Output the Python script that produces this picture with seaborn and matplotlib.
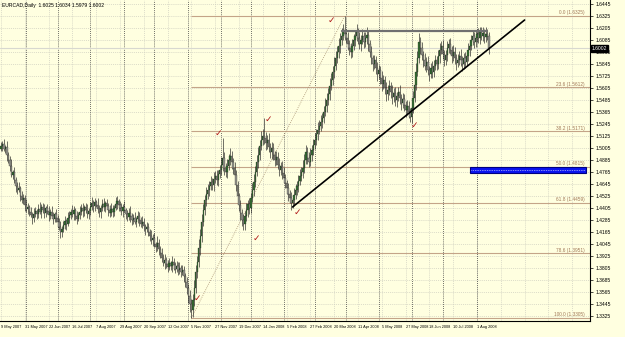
import numpy as np
import pandas as pd
import matplotlib
matplotlib.use("Agg")
import matplotlib.pyplot as plt
from matplotlib.patches import Rectangle
import seaborn as sns

# ---------------- data ----------------
title_text = "EURCAD,Daily  1.6025 1.6034 1.5979 1.6002"
start_date = "2007-05-09"
holidays = ["2007-12-25", "2008-01-01"]
open_first = 15000  # pips (x 1e-4)

close_pips = [
    15025, 15045, 14995, 15015, 14935, 14885, 14825, 14735, 14765, 14685,
    14625, 14585, 14605, 14525, 14485, 14505, 14435, 14395, 14415, 14365,
    14335, 14305, 14345, 14375, 14345, 14395, 14365, 14415, 14385, 14355,
    14405, 14375, 14335, 14365, 14325, 14295, 14345, 14305, 14265, 14215,
    14165, 14195, 14235, 14275, 14245, 14305, 14335, 14365, 14345, 14385,
    14325, 14295, 14335, 14365, 14405, 14375, 14415, 14385, 14345, 14375,
    14415, 14455, 14425, 14465, 14435, 14395, 14365, 14405, 14445, 14415,
    14455, 14425, 14385, 14355, 14395, 14365, 14405, 14445, 14475, 14435,
    14405, 14375, 14415, 14385, 14345, 14315, 14355, 14325, 14285, 14305,
    14265, 14295, 14325, 14285, 14245, 14265, 14225, 14195, 14215, 14165,
    14125, 14085, 14105, 14045, 14015, 14055, 13995, 13955, 13905, 13855,
    13885, 13845, 13815, 13855, 13825, 13865, 13835, 13795, 13825, 13785,
    13805, 13765, 13785, 13725, 13665, 13605, 13525, 13445, 13385, 13485,
    13605, 13765, 13865, 14005, 14125, 14265, 14385, 14485, 14545, 14585,
    14625, 14665, 14635, 14695, 14725, 14685, 14745, 14785, 14835, 14905,
    14805, 14765, 14825, 14885, 14925, 14865, 14805, 14735, 14635, 14525,
    14435, 14355, 14285, 14245, 14325, 14385, 14445, 14405, 14505, 14585,
    14665, 14765, 14865, 14935, 15025, 15085, 15125, 15105, 15055, 15085,
    15015, 14965, 15005, 14935, 14885, 14915, 14835, 14785, 14825, 14755,
    14705, 14655, 14605, 14545, 14505, 14455, 14485, 14535, 14585, 14625,
    14675, 14725, 14765, 14805, 14885, 14965, 14905, 14865, 14935, 14985,
    15035, 15085, 15145, 15185, 15225, 15265, 15305, 15365, 15425, 15485,
    15545, 15625, 15685, 15765, 15825, 15905, 15965, 16025, 16085, 16125,
    16185, 16145, 16105, 16045, 16005, 15965, 16025, 16085, 16125, 16165,
    16105, 16045, 16085, 16125, 16065, 16105, 16135, 16045, 15965, 15905,
    15845, 15885, 15805, 15745, 15785, 15705, 15645, 15685, 15605, 15545,
    15585, 15625, 15565, 15515, 15555, 15485, 15525, 15565, 15505, 15455,
    15495, 15435, 15385, 15425, 15365, 15315, 15405, 15505, 15635, 15765,
    15905, 16065, 16005, 15935, 15885, 15825, 15865, 15785, 15745, 15805,
    15765, 15825, 15885, 15845, 15925, 15985, 16025, 15945, 15885, 15935,
    16005, 16045, 15985, 15925, 15965, 15905, 15855, 15885, 15925, 15885,
    15845, 15905, 15865, 15925, 15985, 16025, 16085, 16125, 16065, 16105,
    16145, 16105, 16165, 16125, 16155, 16115, 16145, 16125, 16002,
]

# wick extensions beyond the body, in units of 2 pips
hi_ext = [
    20, 15, 25, 10, 30, 15, 20, 35, 10, 25, 15, 20, 30, 10, 25, 20, 15, 30, 20, 10,
    25, 15, 30, 20, 10, 25, 35, 15, 20, 30, 10, 20, 25, 15, 30, 20, 10, 25, 15, 20,
    30, 15, 20, 25, 10, 30, 20, 15, 35, 20, 10, 25, 15, 30, 20, 25, 10, 20, 30, 15,
    25, 30, 15, 20, 10, 35, 20, 15, 25, 30, 10, 20, 15, 25, 30, 20, 15, 35, 25, 10,
    20, 25, 15, 30, 10, 20, 25, 35, 15, 20, 30, 10, 25, 20, 15, 30, 20, 10, 25, 20,
    15, 30, 20, 25, 10, 35, 20, 15, 25, 20, 30, 15, 20, 25, 10, 30, 20, 15, 25, 20,
    30, 15, 25, 20, 15, 25, 20, 30, 25, 30, 40, 35, 30, 45, 35, 40, 30, 25, 35, 30,
    25, 30, 20, 35, 25, 30, 20, 25, 40, 100, 30, 25, 35, 30, 40, 25, 20, 30, 25, 20,
    15, 25, 20, 30, 25, 35, 20, 30, 25, 35, 40, 30, 35, 40, 30, 45, 35, 90, 30, 25,
    35, 20, 30, 25, 20, 30, 25, 35, 20, 25, 30, 20, 15, 25, 20, 30, 25, 35, 30, 25,
    30, 35, 25, 40, 30, 35, 25, 30, 35, 25, 30, 35, 25, 40, 30, 35, 25, 30, 40, 35,
    30, 40, 35, 30, 45, 35, 30, 40, 35, 40, 30, 70, 25, 30, 20, 25, 35, 30, 25, 40,
    20, 30, 25, 35, 20, 30, 40, 25, 20, 30, 15, 25, 20, 30, 25, 20, 35, 25, 20, 30,
    25, 30, 20, 35, 25, 30, 20, 25, 35, 20, 30, 25, 20, 30, 25, 20, 30, 35, 40, 45,
    35, 45, 25, 30, 20, 35, 25, 30, 20, 25, 35, 30, 25, 20, 30, 35, 25, 30, 20, 25,
    35, 25, 30, 20, 35, 25, 20, 30, 25, 35, 20, 25, 30, 25, 35, 30, 25, 30, 20, 35,
    25, 30, 25, 25, 30, 20, 35, 25, 20,
]

lo_ext = [
    15, 25, 10, 20, 30, 15, 25, 10, 20, 15, 30, 20, 10, 25, 15, 20, 30, 15, 25, 20,
    10, 30, 20, 15, 25, 20, 10, 30, 15, 25, 20, 15, 30, 20, 10, 25, 15, 20, 30, 15,
    30, 25, 15, 20, 30, 10, 25, 20, 15, 30, 20, 25, 10, 20, 15, 30, 25, 15, 20, 25,
    20, 15, 30, 25, 10, 20, 25, 30, 15, 20, 25, 10, 30, 20, 15, 25, 20, 10, 25, 30,
    15, 20, 30, 10, 25, 20, 15, 30, 25, 20, 10, 25, 20, 30, 15, 20, 25, 30, 15, 20,
    25, 20, 30, 15, 25, 20, 30, 25, 20, 15, 30, 20, 25, 15, 20, 30, 25, 20, 15, 25,
    20, 25, 15, 30, 25, 30, 35, 40, 40, 35, 30, 25, 30, 25, 35, 30, 20, 25, 30, 25,
    30, 20, 25, 30, 20, 25, 30, 20, 25, 30, 35, 25, 30, 20, 25, 35, 30, 25, 30, 35,
    30, 35, 30, 30, 30, 25, 35, 30, 25, 20, 30, 25, 20, 30, 25, 20, 25, 30, 35, 30,
    25, 30, 35, 25, 30, 25, 20, 30, 25, 30, 20, 25, 30, 35, 25, 35, 25, 30, 20, 25,
    30, 20, 25, 30, 25, 20, 30, 25, 20, 30, 25, 20, 25, 30, 20, 25, 30, 25, 20, 30,
    25, 30, 20, 25, 30, 20, 25, 30, 35, 25, 20, 30, 25, 30, 35, 30, 25, 20, 30, 25,
    30, 25, 35, 20, 30, 25, 30, 35, 25, 30, 35, 25, 30, 35, 25, 30, 35, 25, 30, 35,
    30, 25, 30, 35, 25, 30, 35, 25, 30, 35, 25, 30, 35, 25, 30, 25, 30, 25, 20, 25,
    20, 25, 30, 25, 35, 20, 30, 25, 35, 20, 30, 25, 20, 30, 25, 35, 20, 25, 30, 25,
    30, 25, 20, 35, 25, 30, 35, 20, 25, 30, 35, 25, 30, 20, 25, 30, 20, 25, 30, 25,
    20, 25, 30, 20, 25, 30, 25, 20, 30,
]

price_ticks = [1.6445, 1.6325, 1.6205, 1.6085, 1.5965, 1.5845, 1.5725, 1.5605,
               1.5485, 1.5365, 1.5245, 1.5125, 1.5005, 1.4885, 1.4765, 1.4645,
               1.4525, 1.4405, 1.4285, 1.4165, 1.4045, 1.3925, 1.3805, 1.3685,
               1.3565, 1.3445, 1.3325]

fib_levels = [0.0, 23.6, 38.2, 50.0, 61.8, 78.6, 100.0]
fib_low, fib_high = 1.3305, 1.6325
fib_low_bar, fib_high_bar = 128, 231

support_bars = [196, 352]
support_prices = [1.4415, 1.6285]
resist_bars = [229, 327]
resist_prices = [1.6175, 1.6175]

check_bars = [221.8, 145.9, 179.5, 199.0, 172.0, 131.8, 277.6]
check_prices = [1.6285, 1.5155, 1.5295, 1.4365, 1.4105, 1.3505, 1.5235]

zone_bars = [315.3, 393.3]
zone_prices = [1.4755, 1.4815]
bid_price = 1.6002

# ---------------- derived ----------------
n = len(close_pips)
dates = pd.bdate_range(start_date, periods=n + 10, freq="C", holidays=holidays)[:n]
idx = np.arange(n)
c = np.array(close_pips, float) / 1e4
o = np.r_[open_first / 1e4, c[:-1]]
h = np.maximum(o, c) + np.array(hi_ext) * 2 / 1e4
l = np.minimum(o, c) - np.array(lo_ext) * 2 / 1e4

BG = "#FFFFE0"
sns.set_theme(style="white", rc={"axes.facecolor": BG, "figure.facecolor": BG})
plt.rcParams["font.family"] = ["Liberation Sans Narrow", "Liberation Sans", "DejaVu Sans"]

W, H = 625, 337
fig = plt.figure(figsize=(W / 100, H / 100), dpi=100)
ax = fig.add_axes([0, 16 / H, 590 / W, 321 / H])
px = 1.4875
x0 = -1 / px
ax.set_xlim(x0, x0 + 590 / px)
ax.set_ylim(1.3275, 1.6485)

# grid: horizontal at price ticks, vertical every 16 bars
for p in price_ticks:
    ax.axhline(p, color="#CFCFC0", lw=0.5, ls=(0, (1.5, 1.5)), zorder=0)
for k in range(0, 26):
    ax.axvline(16 * k, color="#CFCFC0", lw=0.5, ls=(0, (1.5, 1.5)), zorder=0)
# month separators
month = dates.month
sep = [i for i in range(1, n) if month[i] != month[i - 1]]
for i in sep:
    ax.axvline(i, color="#404040", lw=0.6, ls=(0, (1, 1.5)), zorder=0.5)

# bid line
ax.axhline(bid_price, color="#D8D8D0", lw=0.8, zorder=0.6)

# fibonacci
rng = fib_high - fib_low
for lev in fib_levels:
    p = fib_high - lev / 100 * rng
    ax.hlines(p, fib_low_bar, ax.get_xlim()[1], color="#C4A488", lw=0.8, zorder=1)
    ax.text(392.5, p + 0.0006, f"{lev:.1f} ({p:.4f})", fontsize=3.4,
            color="#A07858", ha="right", va="bottom", zorder=2)
sns.lineplot(x=[fib_low_bar, fib_high_bar], y=[fib_low, fib_high], ax=ax,
             color="#A89070", lw=0.6, ls=(0, (1, 1.5)), zorder=1)

# zone rectangle
ax.add_patch(Rectangle((zone_bars[0], zone_prices[0]), zone_bars[1] - zone_bars[0],
                       zone_prices[1] - zone_prices[0], facecolor="#0A14F0",
                       edgecolor="#000080", lw=0.8, zorder=2))
ax.hlines(np.mean(zone_prices), zone_bars[0] + 1, zone_bars[1] - 1, color="white",
          lw=0.5, ls=(0, (1, 1.5)), zorder=3)

# candles
up = c >= o
body_lo = np.minimum(o, c)
body_h = np.maximum(np.abs(c - o), 0.0004)
ax.vlines(idx, l, h, color="#202020", lw=0.45, zorder=3)
ax.bar(idx[up], body_h[up], bottom=body_lo[up], width=0.85, color="#356F32",
       edgecolor="#202020", linewidth=0.2, zorder=4)
ax.bar(idx[~up], body_h[~up], bottom=body_lo[~up], width=0.85, color="#95958C",
       edgecolor="#202020", linewidth=0.2, zorder=4)

# trend lines
sns.lineplot(x=resist_bars, y=resist_prices, ax=ax, color="#707070", lw=1.6, zorder=5)
sns.lineplot(x=support_bars, y=support_prices, ax=ax, color="black", lw=1.2, zorder=5)

# check marks
for b, p in zip(check_bars, check_prices):
    ax.text(b, p, "\u2713", color="#B01818", fontsize=6.5, ha="center", va="center",
            family="DejaVu Sans", zorder=6)

# axes styling
for s in ["left", "top"]:
    ax.spines[s].set_visible(False)
for s in ["right", "bottom"]:
    ax.spines[s].set_color("black")
    ax.spines[s].set_linewidth(0.8)
ax.yaxis.tick_right()
ax.set_yticks(price_ticks)
ax.set_yticklabels([f"{p:.4f}" for p in price_ticks])
tick_pos = list(range(0, n, 16))
ax.set_xticks(tick_pos)
ax.set_xticklabels([f"{dates[i].day} {dates[i].strftime('%b %Y')}" for i in tick_pos],
                   ha="left")
ax.tick_params(axis="both", length=2, width=0.5, color="black",
               pad=1, colors="black")
ax.tick_params(axis="x", labelsize=2.8)
ax.tick_params(axis="y", labelsize=3.6, pad=2)
ax.grid(False)

# current price marker
ax.text(1.0035, bid_price, f"{bid_price:.4f}", transform=ax.get_yaxis_transform(),
        fontsize=3.6, color="white", ha="left", va="center", zorder=7,
        bbox=dict(boxstyle="square,pad=0.15", fc="black", ec="black"),
        clip_on=False)

fig.text(2 / W, 1 - 3 / H, title_text, fontsize=3.6, color="black", ha="left", va="top")

fig.savefig("out.png", dpi=100, facecolor=BG)
